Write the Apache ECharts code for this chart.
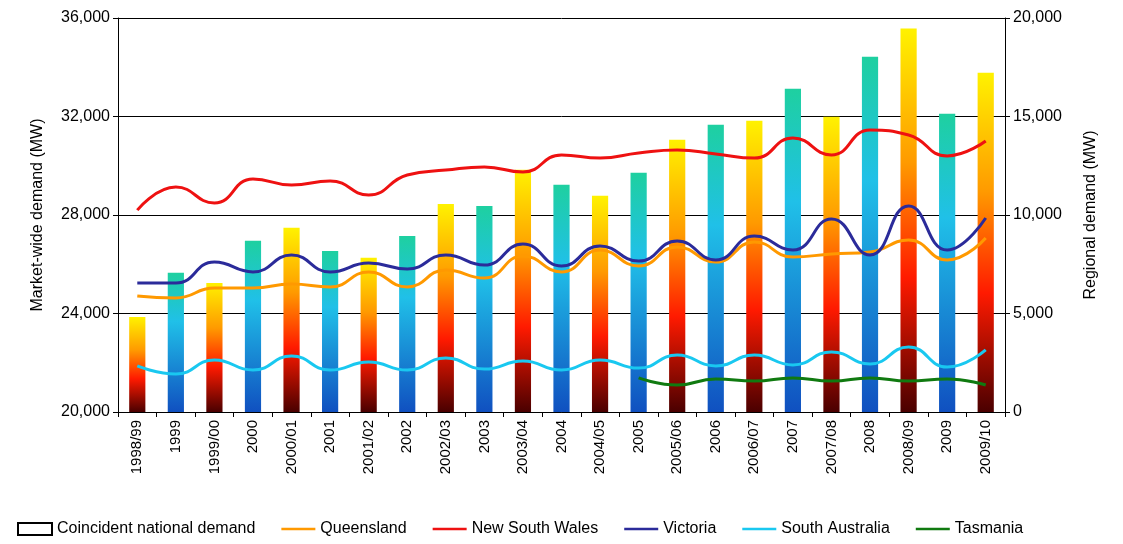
<!DOCTYPE html>
<html>
<head>
<meta charset="utf-8">
<script src="https://cdn.jsdelivr.net/npm/echarts@6/dist/echarts.min.js"></script>
<style>html,body{margin:0;padding:0;background:#fff}#c{width:1123px;height:544px}</style>
</head>
<body>
<div id="c"></div>
<script>
var categories = ['1998/99','1999','1999/00','2000','2000/01','2001','2001/02','2002','2002/03','2003','2003/04','2004','2004/05','2005','2005/06','2006','2006/07','2007','2007/08','2008','2008/09','2009','2009/10'];
var national = [23860,25650,25240,26950,27480,26540,26260,27150,28450,28370,29840,29230,28780,29720,31060,31670,31830,33130,31990,34430,35570,32110,33780];
var queensland = [5890,5790,6290,6290,6500,6350,7110,6350,7210,6800,7920,7110,8220,7410,8380,7610,8630,7870,8020,8120,8730,7720,8830];
var nsw = [10250,11420,10610,11830,11520,11730,11020,12030,12280,12440,12180,13050,12890,13150,13300,13100,12890,13910,13050,14310,14060,13000,13760];
var victoria = [6550,6550,7610,7110,7970,7110,7560,7260,7970,7460,8530,7410,8430,7660,8680,7720,8930,8220,9800,7970,10460,8220,9850];
var southAus = [2340,1930,2640,2130,2840,2130,2540,2130,2740,2180,2590,2130,2640,2230,2890,2340,2890,2390,3050,2440,3300,2280,3150];
var tasmania = [null,null,null,null,null,null,null,null,null,null,null,null,null,1730,1370,1680,1570,1730,1570,1730,1570,1680,1370];

var summerGrad = new echarts.graphic.LinearGradient(0, 0, 0, 1, [
  { offset: 0, color: '#fff200' }, { offset: 0.35, color: '#ff9a00' },
  { offset: 0.65, color: '#ff1a00' }, { offset: 1, color: '#4a0000' }]);
var winterGrad = new echarts.graphic.LinearGradient(0, 0, 0, 1, [
  { offset: 0, color: '#1ed0a0' }, { offset: 0.35, color: '#20c0e8' },
  { offset: 1, color: '#1050c0' }]);

var chart = echarts.init(document.getElementById('c'));
var font = 'Liberation Sans, Arial, sans-serif';

function line(name, data, color) {
  return { name: name, type: 'line', yAxisIndex: 1, smooth: true, symbol: 'none',
    data: data, lineStyle: { color: color, width: 3 }, itemStyle: { color: color } };
}

chart.setOption({
  textStyle: { fontFamily: font },
  grid: { left: 118, right: 118, top: 18, bottom: 132 },
  legend: {
    bottom: 2, left: 12, itemWidth: 34, itemHeight: 12, itemGap: 26,
    textStyle: { fontSize: 16, color: '#000', fontFamily: font },
    data: [
      { name: 'Coincident national demand', icon: 'rect' },
      { name: 'Queensland', icon: 'path://M0,5H30V7H0Z' },
      { name: 'New South Wales', icon: 'path://M0,5H30V7H0Z' },
      { name: 'Victoria', icon: 'path://M0,5H30V7H0Z' },
      { name: 'South Australia', icon: 'path://M0,5H30V7H0Z' },
      { name: 'Tasmania', icon: 'path://M0,5H30V7H0Z' }
    ]
  },
  xAxis: {
    type: 'category', data: categories,
    axisLine: { lineStyle: { color: '#000' } },
    axisTick: { show: true, alignWithLabel: false, lineStyle: { color: '#000' } },
    axisLabel: { rotate: 90, color: '#000', fontSize: 15, interval: 0 }
  },
  yAxis: [
    { type: 'value', min: 20000, max: 36000, interval: 4000,
      name: 'Market-wide demand (MW)', nameLocation: 'middle', nameGap: 72,
      nameTextStyle: { fontSize: 16, color: '#000' },
      axisLine: { show: true, lineStyle: { color: '#000' } },
      axisTick: { show: true, lineStyle: { color: '#000' } },
      axisLabel: { color: '#000', fontSize: 16, formatter: function (v) { return v.toLocaleString('en-US'); } },
      splitLine: { lineStyle: { color: '#000', width: 1 } } },
    { type: 'value', min: 0, max: 20000, interval: 5000,
      name: 'Regional demand (MW)', nameLocation: 'middle', nameGap: 78, nameRotate: 90,
      nameTextStyle: { fontSize: 16, color: '#000' },
      axisLine: { show: true, lineStyle: { color: '#000' } },
      axisTick: { show: true, lineStyle: { color: '#000' } },
      axisLabel: { color: '#000', fontSize: 16, formatter: function (v) { return v.toLocaleString('en-US'); } },
      splitLine: { show: false } }
  ],
  series: [
    { name: 'Coincident national demand', type: 'bar', barWidth: '42%',
      itemStyle: { color: '#fff', borderColor: '#000', borderWidth: 1 },
      data: national.map(function (v, i) {
        return { value: v, itemStyle: { color: i % 2 === 0 ? summerGrad : winterGrad, borderWidth: 0 } };
      }) },
    line('Queensland', queensland, '#ff9900'),
    line('New South Wales', nsw, '#ee1111'),
    line('Victoria', victoria, '#2b2b9a'),
    line('South Australia', southAus, '#19c8f0'),
    line('Tasmania', tasmania, '#107a10')
  ]
});
</script>
</body>
</html>
